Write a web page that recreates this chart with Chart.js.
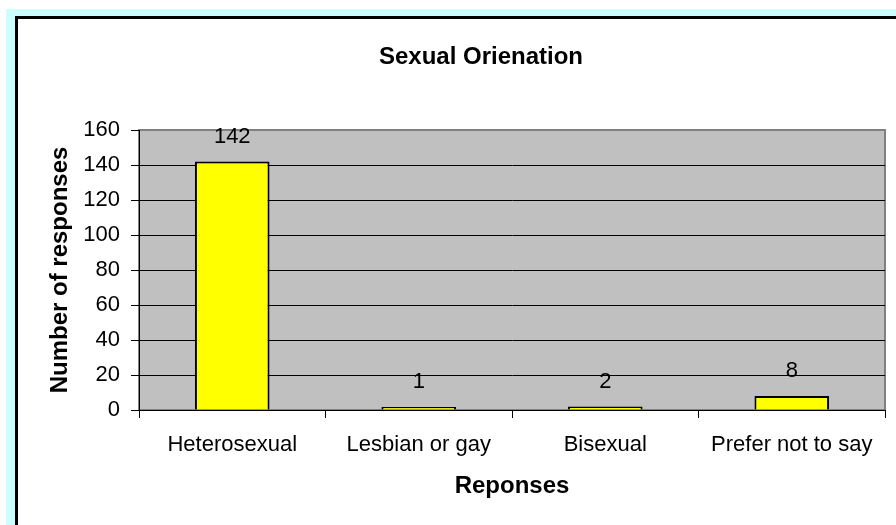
<!DOCTYPE html>
<html>
<head>
<meta charset="utf-8">
<script src="https://cdn.jsdelivr.net/npm/chart.js@4.4.1/dist/chart.umd.min.js"></script>
<style>
  body { margin: 0; background: #fff; }
  #frame { position: absolute; left: 6px; top: 9px; right: 0; bottom: 0; background: #ccffff; }
  #box { position: absolute; left: 15px; top: 16px; right: 0; bottom: 0; background: #fff;
         border-top: 3px solid #000; border-left: 3px solid #000; }
  #chart { position: absolute; left: 0; top: 0; }
</style>
</head>
<body>
<div id="frame"></div>
<div id="box"></div>
<canvas id="chart" width="896" height="525"></canvas>
<script>
const categories = ["Heterosexual", "Lesbian or gay", "Bisexual", "Prefer not to say"];
const responses = [142, 1, 2, 8];
const yTicks = [0, 20, 40, 60, 80, 100, 120, 140, 160];
const chartTitle = "Sexual Orienation";

const FONT = "'Liberation Sans', Arial, sans-serif";

// grey plot area with a darker grey frame
const plotBackground = {
  id: "plotBackground",
  beforeDraw(chart) {
    const { ctx, chartArea } = chart;
    ctx.save();
    ctx.fillStyle = "#c0c0c0";
    ctx.fillRect(chartArea.left, chartArea.top, chartArea.width, chartArea.height);
    ctx.strokeStyle = "#808080";
    ctx.lineWidth = 2;
    ctx.strokeRect(chartArea.left, chartArea.top, chartArea.width, chartArea.height);
    ctx.restore();
  },
};

// title sits centred over the white box, not the canvas
const boxTitle = {
  id: "boxTitle",
  afterDraw(chart) {
    const { ctx } = chart;
    ctx.save();
    ctx.font = "bold 24px " + FONT;
    ctx.fillStyle = "#000";
    ctx.textAlign = "center";
    ctx.textBaseline = "middle";
    ctx.fillText(chartTitle, 481, 57);
    ctx.restore();
  },
};

// value labels above each bar
const valueLabels = {
  id: "valueLabels",
  afterDatasetsDraw(chart) {
    const { ctx } = chart;
    const meta = chart.getDatasetMeta(0);
    ctx.save();
    ctx.font = "22px " + FONT;
    ctx.fillStyle = "#000";
    ctx.textAlign = "center";
    ctx.textBaseline = "middle";
    meta.data.forEach((bar, i) => {
      ctx.fillText(String(responses[i]), bar.x, bar.y - 25);
    });
    ctx.restore();
  },
};

new Chart(document.getElementById("chart"), {
  type: "bar",
  data: {
    labels: categories,
    datasets: [
      {
        data: responses,
        backgroundColor: "#ffff00",
        borderColor: "#000000",
        borderWidth: 2,
        minBarLength: 3,
        barPercentage: 0.4,
        categoryPercentage: 1.0,
      },
    ],
  },
  options: {
    responsive: false,
    animation: false,
    devicePixelRatio: 1,
    layout: { padding: { left: 0, right: 11, top: 130, bottom: 0 } },
    plugins: {
      legend: { display: false },
      tooltip: { enabled: false },
      title: { display: false },
    },
    scales: {
      x: {
        afterFit: (s) => { s.height = 115; },
        grid: {
          display: true,
          drawOnChartArea: false,
          drawTicks: true,
          tickLength: 8,
          offset: true,
          color: "#000",
        },
        border: { display: true, color: "#000", width: 1 },
        ticks: {
          color: "#000",
          font: { family: FONT, size: 22 },
          padding: 14,
          maxRotation: 0,
          autoSkip: false,
        },
        title: {
          display: true,
          text: "Reponses",
          color: "#000",
          font: { family: FONT, size: 24, weight: "bold" },
          padding: { top: 0, bottom: 24 },
        },
      },
      y: {
        min: 0,
        max: 160,
        afterFit: (s) => { s.width = 139; },
        afterBuildTicks: (s) => { s.ticks = yTicks.map((v) => ({ value: v })); },
        grid: {
          color: (c) => (c.tick && c.tick.value === 160 ? "#808080" : "#000"),
          tickColor: "#000",
          tickLength: 8,
          lineWidth: 1,
        },
        border: { display: true, color: "#000", width: 1 },
        ticks: {
          color: "#000",
          font: { family: FONT, size: 22 },
          padding: 11,
        },
        title: {
          display: true,
          text: "Number of responses",
          color: "#000",
          font: { family: FONT, size: 24, weight: "bold" },
          padding: { top: 46, bottom: 0 },
        },
      },
    },
  },
  plugins: [plotBackground, boxTitle, valueLabels],
});
</script>
</body>
</html>
